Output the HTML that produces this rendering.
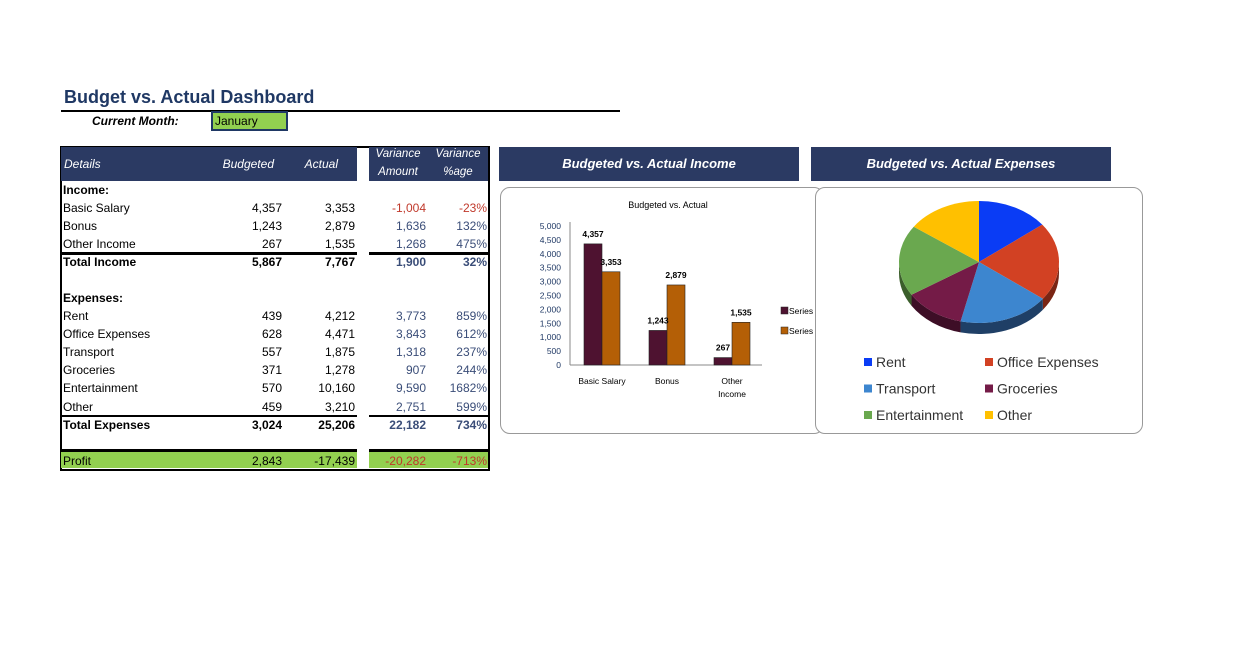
<!DOCTYPE html>
<html><head><meta charset="utf-8">
<style>
body{margin:0;width:1258px;height:662px;background:#fff;position:relative;overflow:hidden;font-family:"Liberation Sans",sans-serif;}
.abs{position:absolute;}
.c{position:absolute;font-size:12px;line-height:18px;white-space:nowrap;}
.band{position:absolute;background:#2b3a63;color:#fff;font-weight:bold;font-style:italic;font-size:13px;text-align:center;line-height:34px;}
</style></head><body>
<div class="abs" style="left:64px;top:87px;font-size:18px;font-weight:bold;color:#1f3864;">Budget vs. Actual Dashboard</div>
<div class="abs" style="left:61px;top:110px;width:559px;height:2px;background:#000;"></div>
<div class="abs" style="left:92px;top:114px;font-size:12px;font-weight:bold;font-style:italic;">Current Month:</div>
<div class="abs" style="left:211px;top:111px;width:71px;height:16px;background:#92d050;border:2px solid #1f3864;font-size:12px;line-height:16px;padding-left:2px;">January</div>

<div id="tbl" class="abs" style="left:60px;top:146px;width:426px;height:321px;border:2px solid #000;"></div>
<div class="band" style="left:499px;top:147px;width:300px;height:34px;">Budgeted vs. Actual Income</div>
<div class="band" style="left:811px;top:147px;width:300px;height:34px;">Budgeted vs. Actual Expenses</div>

<div class="abs" style="left:500px;top:187px;width:322px;height:245px;border:1px solid #999;border-radius:10px;"></div>
<div class="abs" style="left:815px;top:187px;width:326px;height:245px;border:1px solid #999;border-radius:10px;background:#fff;"></div>

<svg id="bar" class="abs" style="left:500px;top:187px;" width="318" height="245"></svg>
<svg id="pie" class="abs" style="left:816px;top:188px;" width="326" height="244"></svg>

<script>
// ---- table data ----
const rowLabels=["Income:","Basic Salary","Bonus","Other Income","Total Income","","Expenses:","Rent","Office Expenses","Transport","Groceries","Entertainment","Other","Total Expenses","","Profit"];
const budgeted=["","4,357","1,243","267","5,867","","","439","628","557","371","570","459","3,024","","2,843"];
const actual=["","3,353","2,879","1,535","7,767","","","4,212","4,471","1,875","1,278","10,160","3,210","25,206","","-17,439"];
const varAmt=["","-1,004","1,636","1,268","1,900","","","3,773","3,843","1,318","907","9,590","2,751","22,182","","-20,282"];
const varPct=["","-23%","132%","475%","32%","","","859%","612%","237%","244%","1682%","599%","734%","","-713%"];
const rowTops=[180,198,216,234,252,270,288,306,324,342,360,378,397,415,433,451];
function add(parent,html,style,name){const d=document.createElement('div');d.className='c';d.style.cssText=style;d.innerHTML=html;


parent.appendChild(d);return d;}
const body=document.body;
add(body,'','left:61px;top:147px;width:296px;height:34px;background:#2b3a63;','table-header-left');
add(body,'','left:369px;top:147px;width:119px;height:34px;background:#2b3a63;','table-header-right');
add(body,'Details','left:64px;top:155px;color:#fff;font-style:italic;','header-details');
add(body,'Budgeted','left:200px;top:155px;width:74px;color:#fff;font-style:italic;text-align:right;','header-budgeted');
add(body,'Actual','left:280px;top:155px;width:58px;color:#fff;font-style:italic;text-align:right;','header-actual');
add(body,'Variance<br>Amount','left:370px;top:145px;width:56px;color:#fff;font-style:italic;text-align:center;font-size:11.5px;','header-variance-amount');
add(body,'Variance<br>%age','left:428px;top:145px;width:60px;color:#fff;font-style:italic;text-align:center;font-size:11.5px;','header-variance-pct');
add(body,'','left:61px;top:451px;width:296px;height:17px;background:#92d050;','profit-band-left');
add(body,'','left:369px;top:451px;width:119px;height:17px;background:#92d050;','profit-band-right');
[[252,3],[415,2],[449,3]].forEach(l=>{
add(body,'',`left:61px;top:${l[0]}px;width:296px;height:${l[1]}px;background:#000;`,'table-rule-left');
add(body,'',`left:369px;top:${l[0]}px;width:119px;height:${l[1]}px;background:#000;`,'table-rule-right');});
rowLabels.forEach((lab,i)=>{
 const t=rowTops[i]+1;const bold=(i==0||i==4||i==6||i==13)?'font-weight:bold;':'';
 if(lab)add(body,lab,`left:63px;top:${t}px;${bold}`,'row-label');
 if(budgeted[i])add(body,budgeted[i],`left:200px;top:${t}px;width:82px;text-align:right;${bold}`,'budgeted-value');
 if(actual[i])add(body,actual[i],`left:280px;top:${t}px;width:75px;text-align:right;${bold}`,'actual-value');
 const red=varAmt[i].startsWith('-')?'#c0392b':'#3a4d78';
 if(varAmt[i])add(body,varAmt[i],`left:360px;top:${t}px;width:66px;text-align:right;color:${red};${bold}`,'variance-amount');
 if(varPct[i])add(body,varPct[i],`left:430px;top:${t}px;width:57px;text-align:right;color:${red};${bold}`,'variance-pct');
});
</script>

<script>
// ---- bar chart data ----
const barCats=["Basic Salary","Bonus","Other Income"];
const barBudget=[4357,1243,267];
const barActual=[3353,2879,1535];
const barTicks=[0,500,1000,1500,2000,2500,3000,3500,4000,4500,5000];
const NS='http://www.w3.org/2000/svg';
const bs=document.getElementById('bar');
function el(svg,tag,attrs,name){const e=document.createElementNS(NS,tag);for(const k in attrs)e.setAttribute(k,attrs[k]);


svg.appendChild(e);return e;}
const x0=70,yZero=178,yTop=39,maxV=5000;
const yS=v=>yZero-(v/maxV)*(yZero-yTop);
const groupW=65;const xC=i=>x0+32+i*groupW;
el(bs,'text',{x:168,y:21,'font-size':9,'text-anchor':'middle','font-family':'Liberation Sans'},'chart-title').textContent='Budgeted vs. Actual';
barTicks.forEach(t=>{el(bs,'text',{x:61,y:yS(t)+3,'font-size':8.5,'text-anchor':'end','font-family':'Liberation Sans',fill:'#1f3864'},'y-tick-label').textContent=t.toLocaleString('en-US');});
el(bs,'line',{x1:x0,y1:yTop-4,x2:x0,y2:yZero,stroke:'#888','stroke-width':1},'y-axis');
el(bs,'line',{x1:x0,y1:yZero,x2:x0+192,y2:yZero,stroke:'#888','stroke-width':1},'x-axis');
barCats.forEach((c,i)=>{
 const bx=xC(i);
 el(bs,'rect',{x:bx-18,y:yS(barBudget[i]),width:18,height:yZero-yS(barBudget[i]),fill:'#4e1230',stroke:'#222','stroke-width':0.6},'bar-budgeted');
 el(bs,'rect',{x:bx,y:yS(barActual[i]),width:18,height:yZero-yS(barActual[i]),fill:'#b45f06',stroke:'#222','stroke-width':0.6},'bar-actual');
 el(bs,'text',{x:bx-9,y:yS(barBudget[i])-7,'font-size':8.5,'font-weight':'bold','text-anchor':'middle','font-family':'Liberation Sans'},'label-budgeted').textContent=barBudget[i].toLocaleString('en-US');
 el(bs,'text',{x:bx+9,y:yS(barActual[i])-7,'font-size':8.5,'font-weight':'bold','text-anchor':'middle','font-family':'Liberation Sans'},'label-actual').textContent=barActual[i].toLocaleString('en-US');
 const parts=c==='Other Income'?['Other','Income']:[c];
 parts.forEach((p,j)=>{el(bs,'text',{x:bx,y:yZero+19+j*13,'font-size':8.5,'text-anchor':'middle','font-family':'Liberation Sans'},'x-category-label').textContent=p;});
});
[['#4e1230',126],['#b45f06',146]].forEach(l=>{
 el(bs,'rect',{x:281,y:l[1]-6,width:7,height:7,fill:l[0],stroke:'#222','stroke-width':0.5},'legend-swatch');
 el(bs,'text',{x:289,y:l[1]+1,'font-size':8.5,'font-family':'Liberation Sans'},'legend-entry').textContent='Series';
});
</script>

<script>
// ---- pie chart data ----
const pieCats=["Rent","Office Expenses","Transport","Groceries","Entertainment","Other"];
const pieVals=[439,628,557,371,570,459];
const pieColors=['#0a3cf5','#d24123','#3d86cf','#741b47','#6aa84f','#ffc000'];
const pieDark=['#061f80','#7a2514','#1f3f66','#3d0e26','#3b5e2b','#8a6800'];
const ps=document.getElementById('pie');
const pcx=163,pcy=74,rx=80,ry=61,dep=11;
const tot=pieVals.reduce((a,b)=>a+b,0);
const pt=a=>[pcx+rx*Math.sin(a),pcy-ry*Math.cos(a)];
let a0=0;const angs=pieVals.map(v=>{const s=a0;a0+=v/tot*2*Math.PI;return [s,a0];});
angs.forEach((r,i)=>{
 const s=Math.max(r[0],Math.PI/2),e=Math.min(r[1],Math.PI*1.5);if(e<=s)return;
 const p1=pt(s),p2=pt(e);
 const d=`M${p1[0]},${p1[1]} A${rx},${ry} 0 0 1 ${p2[0]},${p2[1]} L${p2[0]},${p2[1]+dep} A${rx},${ry} 0 0 0 ${p1[0]},${p1[1]+dep} Z`;
 el(ps,'path',{d:d,fill:pieDark[i]},'pie-side');
});
angs.forEach((r,i)=>{
 const p1=pt(r[0]),p2=pt(r[1]);const large=(r[1]-r[0])>Math.PI?1:0;
 el(ps,'path',{d:`M${pcx},${pcy} L${p1[0]},${p1[1]} A${rx},${ry} 0 ${large} 1 ${p2[0]},${p2[1]} Z`,fill:pieColors[i]},'pie-slice');
});
pieCats.forEach((c,i)=>{
 const lx=i%2?169:48,ly=170+Math.floor(i/2)*26.5;
 el(ps,'rect',{x:lx,y:ly,width:8,height:8,fill:pieColors[i]},'legend-swatch');
 el(ps,'text',{x:lx+12,y:ly+9,'font-size':14,fill:'#333','font-family':'Liberation Sans'},'legend-entry').textContent=c;
});
</script>
</body></html>
